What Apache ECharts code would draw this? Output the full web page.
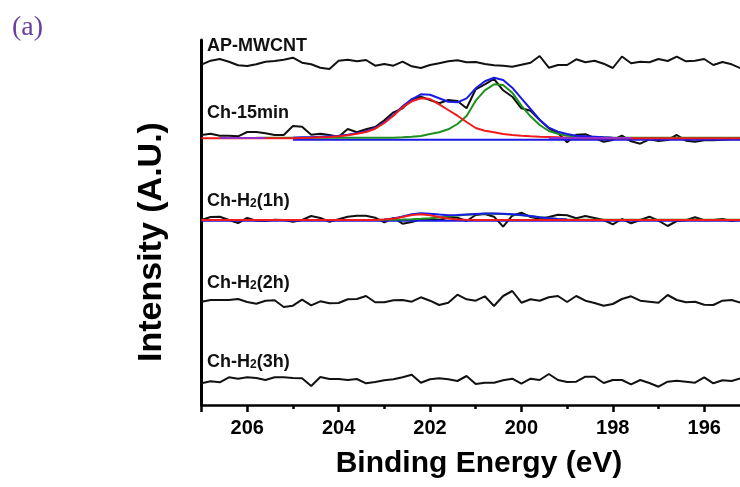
<!DOCTYPE html>
<html>
<head>
<meta charset="utf-8">
<title>XPS spectra</title>
<script src="https://cdn.jsdelivr.net/npm/echarts/dist/echarts.min.js"></script>
<style>
html, body { margin: 0; padding: 0; background: #fff; }
#main { width: 740px; height: 487px; }
</style>
</head>
<body>
<div id="main"></div>
<script>
// binding energy grid (eV), shared by every spectrum
var energy = [207.0, 206.8, 206.6, 206.4, 206.2, 206.0, 205.8, 205.6, 205.4, 205.2,
  205.0, 204.8, 204.6, 204.4, 204.2, 204.0, 203.8, 203.6, 203.4, 203.2,
  203.0, 202.8, 202.6, 202.4, 202.2, 202.0, 201.8, 201.6, 201.4, 201.2,
  201.0, 200.8, 200.6, 200.4, 200.2, 200.0, 199.8, 199.6, 199.4, 199.2,
  199.0, 198.8, 198.6, 198.4, 198.2, 198.0, 197.8, 197.6, 197.4, 197.2,
  197.0, 196.8, 196.6, 196.4, 196.2, 196.0, 195.8, 195.6, 195.4, 195.2];

// vertical stacking of the spectra
var shiftAP = 342, shift15 = 266.7, shift1h = 185, shift2h = 103, shift3h = 25;

// AP-MWCNT
var apRaw = [-1.7, 2.3, 4, 1.3, -2.3, -3, -1.3, 1.3, 2, 3.3, 5.3, 0.3, -1.3, -4.7, -6, 2.3, 3.3, 1.7, 3, -2.7,
  -1, -2.7, 1.3, -3.3, -5, -2, -0.3, 1.7, 2.7, 0.7, 1, -1, -2.3, -2.7, -3.7, -1.7, 0.3, 7, -4.7, -2,
  -2, 3.7, 0.7, 2.3, -0.7, -5, 6.5, -0.3, 1.3, 0.7, 4, 2, 6.3, 1.7, 2.3, 4, -2, 1, -1.3, -5.3];

// Ch-15min: raw + fit
var ch15Raw = [3.3, 4.6, 2.6, 2.6, 2, 6.3, 6.3, 5, 3.3, 3.3, 12.3, 11.6, 3.6, 4.6, 3.3, 1.6, 9.3, 6, 9, 11.3,
  18, 26, 30, 39, 41.6, 38.3, 35, 38.3, 37.3, 30, 49, 54, 59.3, 48, 41.6, 30, 27.6, 18.3, 10, 5.3,
  -4, 3.6, 4, 0.3, -3.4, -1.7, 2.6, -3, -5.4, -1, -2.7, -1.7, 3.3, -2.4, -3.4, -2, -2, -1.4, -1, -1];
var ch15Red = [0, 0, 0, 0, 0, 0, 0, 0, 0, 0, 0, 0.3, 0.6, 1, 1.3, 2, 3, 4.6, 6.3, 9.6,
  15.3, 22.6, 31, 37, 40, 39.3, 34, 28.3, 22.6, 16.3, 10.3, 7.6, 6, 4.3, 3.3, 2.6, 2, 1.6, 1.3, 1,
  0.6, 0.3, 0, 0, 0, 0, 0, 0, 0, 0, 0, 0, 0, 0, 0, 0, 0, 0, 0, 0];
var ch15Green = [null, null, null, null, null, null, 0.5, 0.5, 0.5, 0.5, 0.5, 0.5, 0.5, 0.5, 0.5, 0.5, 0.5, 0.5, 0.5, 0.5,
  0.5, 0.6, 1, 1.6, 2.3, 4.3, 6, 9, 14.3, 22.3, 37.6, 48, 54, 53.3, 45.6, 32.6, 22, 13.3, 7.3, 4.6,
  2.6, 2, 1.6, 1.3, 1, 0.6, 0.6, 0.6, 0.6, 0.6, 0.6, 0.6, 0.6, 0.6, 0.6, 0.6, 0.6, 0.6, 0.6, 0.6];
var ch15Blue = [null, null, null, null, null, null, null, null, null, null, 0.5, 1, 1, 1.5, 2, 2.5, 3.5, 5, 7, 10.3,
  16, 23.3, 32, 39, 44, 43.5, 40, 36.5, 36, 40, 50, 57, 60.6, 58.3, 50.6, 40, 29.3, 18.6, 10.6, 6.6,
  4.3, 2.6, 2, 1.5, 1, 0.6, 0.3, 0, null, null, null, null, null, null, null, null, null, null, null, null];
var ch15Purple = [null, null, 0.4, 0.4, 0.4, 0.4, 0.4, 0.4, null, null, null, null, null, null, null, null, null, null, null, null,
  null, null, null, null, null, null, null, null, null, null, null, null, null, null, null, null, null, null, 0.4, 0.4,
  0.4, 0.4, 0.4, 0.4, 0.4, 0.4, 0.4, 0.4, null, null, null, null, null, null, null, null, null, null, null, null];
var ch15BgEnergy = [205.0, 195.0];
var ch15BgLevel = [-1.5, -1.5];

// Ch-H2(1h): raw + fit
var h1Raw = [0, 3, 3.3, 0, -3, 2, -0.7, -1, 0.3, 0, -1.7, 0, 4, 2, -1.7, 0.7, 3.3, 4.3, 4.3, 2.3,
  -2.3, 2, -3.7, -2, 0.7, 0.7, 0, 2.3, 2.3, -1, 5, 6, 3.3, -6.7, 4.3, 7.3, 3, 1.3, 3, 5.3,
  4.7, 1.7, 4, 2, 0, -4.3, 1, -3.3, 0, 3.3, -0.7, -6, -1, -0.3, 2.7, -0.3, 0, 1, -1, 0];
var h1Red = [0, 0, 0, 0, 0, 0, 0, 0, 0, 0, 0, 0, 0, 0, 0, 0, 0, 0, 0, 0,
  0.4, 1.3, 3, 5, 5.8, 4.8, 3, 1.5, 0.6, 0.2, 0, 0, 0, 0, 0, 0, 0, 0, 0, 0,
  0, 0, 0, 0, 0, 0, 0, 0, 0, 0, 0, 0, 0, 0, 0, 0, 0, 0, 0, 0];
var h1Green = [0, 0, 0, 0, 0, 0, 0, 0, 0, 0, 0, 0, 0, 0, 0, 0, 0, 0, 0, 0,
  0.2, 0.3, 0.5, 0.8, 1.2, 1.8, 2.6, 3.5, 4.4, 5.2, 5.8, 6.2, 6.3, 6.1, 5.6, 4.8, 3.8, 2.7, 1.7, 1,
  0.5, 0.3, 0.3, 0.3, 0.3, 0.3, 0.3, 0.3, 0.3, 0.3, 0.3, 0.3, 0.3, 0.3, 0.3, 0.3, 0.3, 0.3, 0.3, 0.3];
var h1Blue = [null, null, null, null, null, null, null, null, null, null, null, null, null, null, null, null, null, null, null, null,
  0.6, 1.6, 3.5, 5.8, 6.8, 6.3, 5.4, 4.8, 5, 5.6, 6, 6.4, 6.5, 6.2, 5.7, 4.9, 3.9, 2.8, 1.8, 1,
  0.5, null, null, null, null, null, null, null, null, null, null, null, null, null, null, null, null, null, null, null];
var h1BgEnergy = [207.0, 195.0];
var h1BgLevel = [-0.8, -0.8];

// Ch-H2(2h)
var h2Raw = [0.3, 2, 2, 2, 3, 0, -1.7, 1.3, 1.7, -5, -3.7, 2.3, -3.3, 0.7, -1.3, -1, 2.7, 3, 6, -0.3,
  -0.3, 1.7, 2, 0.3, 4.7, 1.3, -3, -0.7, 7.3, 2.7, 1.3, 5.7, -4, 6, 11, -0.7, 2.7, 1.3, 4.7, 6,
  0, 6, 1.3, -1, -3.7, -2, 3, 5.7, 1.3, 0.3, -0.7, 7, 2, -0.3, 0.3, -2.7, -3, 1.3, 2, -0.7];

// Ch-H2(3h)
var h3Raw = [-3.3, -1.3, -2.3, 2.7, 1.3, 2.7, 2, 0, 2.7, 2.7, 2, 1.7, -6, 3, 1, 1, 0, 1, -3.3, -2,
  -0.3, 0.7, 2.7, 5.3, -2.7, 0.7, 1.7, 0.7, -1, 4, -4, -2.7, -2.7, -0.3, 1.3, -3.7, 1.3, 0, 6, 0,
  -2, -1.7, 3.3, 3.3, -3, 0, 0, -4.3, 0, -3, -6.7, -1.7, -0.7, -1.7, -2.7, 2.7, -3.3, -0.3, -1, 1.7];

var FONT = 'Liberation Sans, Arial, Helvetica, sans-serif';
var BLACK = '#111111', RED = '#f01c1c', GREEN = '#1f8f1f', BLUE = '#1a1ae6', PURPLE = '#9a2fc8';

var chart = echarts.init(document.getElementById('main'));

// 把数组转换成 [能量, 强度] 点
function toPoints(vals, shift) {
  var out = [];
  for (var i = 0; i < energy.length; i++) {
    out.push([energy[i], vals[i] == null ? null : vals[i] + shift]);
  }
  return out;
}
function toPairs(xs, vals, shift) {
  var out = [];
  for (var i = 0; i < xs.length; i++) {
    out.push([xs[i], vals[i] + shift]);
  }
  return out;
}
function lineSeries(name, data, color, width) {
  return {
    name: name,
    type: 'line',
    data: data,
    symbol: 'none',
    showSymbol: false,
    connectNulls: false,
    silent: true,
    lineStyle: { color: color, width: width },
    itemStyle: { color: color }
  };
}

function sampleLabel(text, y) {
  return {
    type: 'text',
    x: 207,
    y: y,
    style: {
      text: text,
      fill: '#111',
      font: 'bold 18px ' + FONT,
      align: 'left',
      verticalAlign: 'middle',
      rich: {
        a: { fill: '#111', font: 'bold 18px ' + FONT },
        s: { fill: '#111', font: 'bold 12px ' + FONT, verticalAlign: 'bottom' }
      }
    }
  };
}

var option = {
  animation: false,
  backgroundColor: '#fff',
  grid: {
    left: 201.5,
    right: -55.6,
    top: 40,
    bottom: 82,
    containLabel: false,
    outerBoundsMode: 'none'
  },
  xAxis: [
    {
      type: 'value',
      inverse: true,
      min: 194,
      max: 207,
      interval: 2,
      position: 'bottom',
      axisLine: { show: true, onZero: false, lineStyle: { color: '#000', width: 2.5 } },
      axisTick: { show: true, inside: false, length: 7, lineStyle: { color: '#000', width: 2.5 } },
      axisLabel: {
        show: true,
        margin: 13,
        color: '#000',
        fontSize: 20,
        fontWeight: 'bold',
        fontFamily: FONT,
        formatter: function (v) { return v % 2 === 0 ? String(v) : ''; }
      },
      splitLine: { show: false }
    },
    {
      type: 'value',
      inverse: true,
      min: 194,
      max: 207,
      interval: 1,
      position: 'bottom',
      axisLine: { show: false },
      axisTick: { show: true, inside: false, length: 4, lineStyle: { color: '#000', width: 2.5 } },
      axisLabel: { show: false },
      splitLine: { show: false }
    }
  ],
  yAxis: {
    type: 'value',
    min: 0,
    max: 365,
    axisLine: { show: true, onZero: false, lineStyle: { color: '#000', width: 3 } },
    axisTick: { show: false },
    axisLabel: { show: false },
    splitLine: { show: false }
  },
  series: [
    lineSeries('AP-MWCNT', toPoints(apRaw, shiftAP), BLACK, 2),
    lineSeries('Ch-15min', toPoints(ch15Raw, shift15), BLACK, 2),
    lineSeries('Ch-H2(1h)', toPoints(h1Raw, shift1h), BLACK, 2),
    lineSeries('Ch-H2(2h)', toPoints(h2Raw, shift2h), BLACK, 2),
    lineSeries('Ch-H2(3h)', toPoints(h3Raw, shift3h), BLACK, 2),
    lineSeries('15min background', toPairs(ch15BgEnergy, ch15BgLevel, shift15), BLUE, 2),
    lineSeries('1h background', toPairs(h1BgEnergy, h1BgLevel, shift1h), BLUE, 2),
    lineSeries('15min peak 2', toPoints(ch15Green, shift15), GREEN, 2),
    lineSeries('1h peak 2', toPoints(h1Green, shift1h), GREEN, 2),
    lineSeries('15min envelope', toPoints(ch15Blue, shift15), BLUE, 2),
    lineSeries('1h envelope', toPoints(h1Blue, shift1h), BLUE, 2),
    lineSeries('15min peak 1', toPoints(ch15Red, shift15), RED, 2),
    lineSeries('1h peak 1', toPoints(h1Red, shift1h), RED, 2),
    lineSeries('15min baseline', toPoints(ch15Purple, shift15), PURPLE, 2)
  ],
  graphic: [
    {
      type: 'text',
      x: 12,
      y: 28,
      style: {
        text: '(a)',
        fill: '#6b3fa0',
        font: '28px Liberation Serif, Times New Roman, serif',
        align: 'left',
        verticalAlign: 'middle'
      }
    },
    {
      type: 'text',
      x: 152,
      y: 242,
      rotation: Math.PI / 2,
      style: {
        text: 'Intensity (A.U.)',
        fill: '#000',
        font: 'bold 34px ' + FONT,
        align: 'center',
        verticalAlign: 'middle'
      }
    },
    {
      type: 'text',
      x: 479,
      y: 464,
      style: {
        text: 'Binding Energy (eV)',
        fill: '#000',
        font: 'bold 30px ' + FONT,
        align: 'center',
        verticalAlign: 'middle'
      }
    },
    sampleLabel('{a|AP-MWCNT}', 46),
    sampleLabel('{a|Ch-15min}', 113),
    sampleLabel('{a|Ch-H}{s|2}{a|(1h)}', 201),
    sampleLabel('{a|Ch-H}{s|2}{a|(2h)}', 283),
    sampleLabel('{a|Ch-H}{s|2}{a|(3h)}', 362)
  ]
};

chart.setOption(option);
</script>
</body>
</html>
